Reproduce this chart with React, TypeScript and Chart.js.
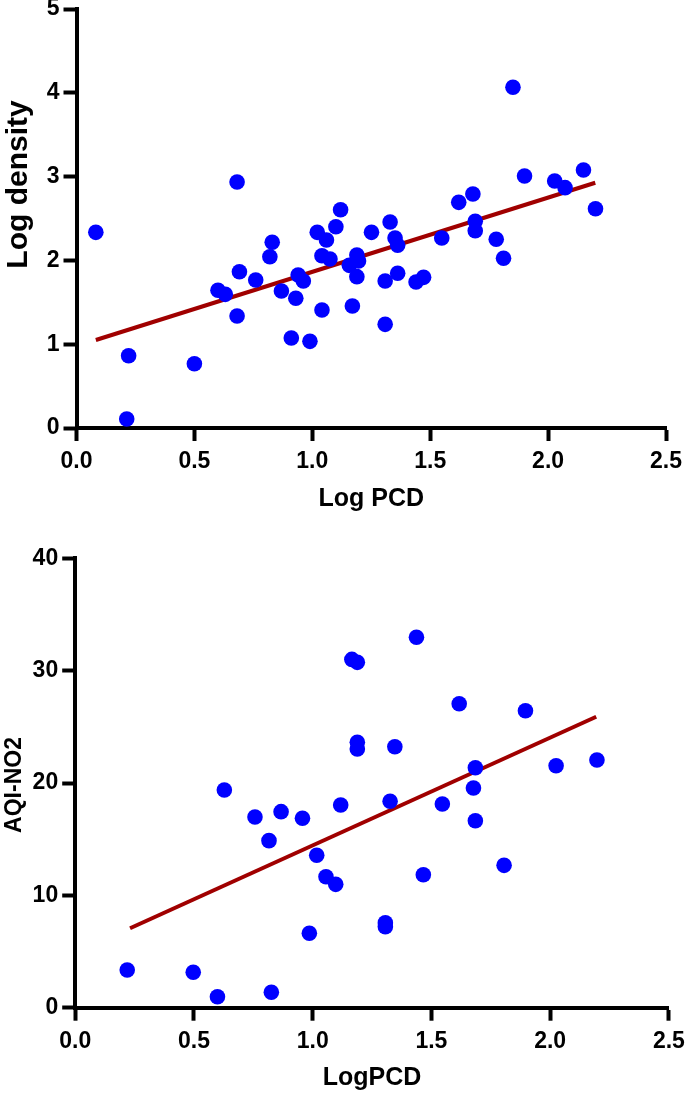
import React, { useEffect, useRef } from "react";
import { Chart, registerables } from "chart.js";
Chart.register(...registerables);

// ---- Data: top panel (Log density vs Log PCD) ----
const densityPCD = [
  0.082, 0.221, 0.213, 0.5, 0.681, 0.6, 0.631, 0.681, 0.691, 0.76, 0.83, 0.82, 0.869,
  0.93, 0.911, 0.94, 0.962, 0.99, 1.021, 1.06, 1.041, 1.075, 1.041, 1.1, 1.12, 1.157,
  1.189, 1.196, 1.189, 1.17, 1.251, 1.851, 1.309, 1.309, 1.33, 1.351, 1.362, 1.362,
  1.44, 1.472, 1.549, 1.621, 1.681, 1.691, 1.691, 1.78, 1.811, 1.9, 2.028, 2.072,
  2.15, 2.201,
];
const densityLog = [
  2.335, 0.863, 0.107, 0.767, 2.935, 1.643, 1.595, 1.337, 1.865, 1.766, 2.216, 2.044,
  1.635, 1.548, 1.074, 1.826, 1.754, 1.034, 2.335, 2.243, 2.056, 2.017, 1.408, 2.402,
  2.605, 1.941, 2.064, 1.993, 1.806, 1.456, 2.335, 4.066, 1.754, 1.237, 2.458, 2.267,
  2.18, 1.846, 1.742, 1.798, 2.267, 2.693, 2.792, 2.466, 2.354, 2.252, 2.025, 3.007,
  2.947, 2.868, 3.079, 2.617,
];
const densityFitX = [0.082, 2.2];
const densityFitY = [1.05, 2.927];

// ---- Data: bottom panel (AQI-NO2 vs LogPCD) ----
const no2PCD = [
  0.219, 0.497, 0.599, 0.826, 0.628, 0.757, 0.867, 0.957, 0.816, 1.017, 1.056, 1.097,
  0.986, 1.118, 1.165, 1.188, 1.188, 1.188, 1.306, 1.306, 1.437, 1.617, 1.896, 1.346,
  1.685, 2.025, 2.197, 1.677, 1.326, 1.546, 1.685, 1.466, 1.806,
];
const no2AQI = [
  3.36, 3.15, 0.98, 1.37, 19.38, 16.97, 17.45, 16.86, 14.87, 13.57, 11.66, 10.98, 6.62,
  18.04, 31.0, 30.74, 23.62, 23.03, 7.55, 7.2, 32.97, 27.06, 26.43, 23.23, 21.36, 21.54,
  22.05, 19.56, 18.37, 18.13, 16.64, 11.84, 12.67,
];
const no2FitX = [0.231, 2.194];
const no2FitY = [7.07, 25.9];

// ---- Tick labels ----
const pcdTicks = [0, 0.5, 1.0, 1.5, 2.0, 2.5];
const densityTicks = [0, 1, 2, 3, 4, 5];
const no2Ticks = [0, 10, 20, 30, 40];

const FONT = "'Liberation Sans', Arial, Helvetica, sans-serif";

type PanelCfg = {
  xs: number[];
  ys: number[];
  fitX: number[];
  fitY: number[];
  yTicks: number[];
  xTitle: string;
  yTitle: string;
  yTitleFont: number;
  yTitleX: number;
  yTitleY: number;
  width: number;
  height: number;
  area: { left: number; right: number; top: number; bottom: number };
  xTitlePadBottom: number;
  xDecimals: number;
};

const yTitlePlugin = {
  id: "yTitlePlugin",
  afterDraw(chart: any) {
    const o = chart.options.plugins.yTitlePlugin;
    if (!o) return;
    const ctx = chart.ctx;
    ctx.save();
    ctx.translate(o.x, o.y);
    ctx.rotate(-Math.PI / 2);
    ctx.font = `bold ${o.size}px ${FONT}`;
    ctx.fillStyle = "#000";
    ctx.textAlign = "center";
    ctx.textBaseline = "middle";
    ctx.fillText(o.text, 0, 0);
    ctx.restore();
  },
};

function Panel({ cfg }: { cfg: PanelCfg }) {
  const ref = useRef<HTMLCanvasElement | null>(null);
  useEffect(() => {
    if (!ref.current) return;
    const pts = cfg.xs.map((x, i) => ({ x, y: cfg.ys[i] }));
    const fit = cfg.fitX.map((x, i) => ({ x, y: cfg.fitY[i] }));
    const a = cfg.area;
    const chart = new Chart(ref.current, {
      type: "scatter",
      data: {
        datasets: [
          {
            data: pts,
            backgroundColor: "#0000ff",
            borderColor: "#0000ff",
            borderWidth: 0,
            pointRadius: 7.8,
            pointHoverRadius: 7.8,
          },
          {
            type: "line",
            data: fit,
            borderColor: "#a00000",
            borderWidth: 4,
            pointRadius: 0,
            showLine: true,
            fill: false,
          } as any,
        ],
      },
      options: {
        animation: false,
        responsive: false,
        events: [],
        layout: {
          autoPadding: false,
          padding: { left: 0, top: a.top, right: cfg.width - a.right, bottom: 0 },
        },
        plugins: {
          legend: { display: false },
          tooltip: { enabled: false },
          yTitlePlugin: {
            text: cfg.yTitle,
            size: cfg.yTitleFont,
            x: cfg.yTitleX,
            y: cfg.yTitleY,
          },
        } as any,
        scales: {
          x: {
            type: "linear",
            min: pcdTicks[0],
            max: pcdTicks[pcdTicks.length - 1],
            afterBuildTicks: (s: any) => {
              s.ticks = pcdTicks.map((v) => ({ value: v }));
            },
            afterFit: (s: any) => {
              s.height = cfg.height - a.bottom;
              s.paddingLeft = 0;
              s.paddingRight = 0;
              s.paddingTop = 0;
              s.paddingBottom = 0;
            },
            border: { display: true, width: 4, color: "#000" },
            grid: {
              drawOnChartArea: false,
              drawTicks: true,
              tickLength: 13,
              tickWidth: 4,
              tickColor: "#000",
            },
            ticks: {
              color: "#000",
              padding: 7,
              maxRotation: 0,
              autoSkip: false,
              font: { family: FONT, size: 23, weight: "bold" },
              callback: (v: any) => Number(v).toFixed(cfg.xDecimals),
            },
            title: {
              display: true,
              text: cfg.xTitle,
              color: "#000",
              font: { family: FONT, size: 25, weight: "bold" },
              padding: { top: 0, bottom: cfg.xTitlePadBottom },
            },
          },
          y: {
            type: "linear",
            min: cfg.yTicks[0],
            max: cfg.yTicks[cfg.yTicks.length - 1],
            afterBuildTicks: (s: any) => {
              s.ticks = cfg.yTicks.map((v) => ({ value: v }));
            },
            afterFit: (s: any) => {
              s.width = a.left;
              s.paddingLeft = 0;
              s.paddingRight = 0;
              s.paddingTop = 0;
              s.paddingBottom = 0;
            },
            border: { display: true, width: 4, color: "#000" },
            grid: {
              drawOnChartArea: false,
              drawTicks: true,
              tickLength: 13,
              tickWidth: 4,
              tickColor: "#000",
            },
            ticks: {
              color: "#000",
              padding: 4,
              autoSkip: false,
              font: { family: FONT, size: 23, weight: "bold" },
              callback: (v: any) => String(v),
            },
          },
        },
      } as any,
      plugins: [yTitlePlugin],
    });
    return () => chart.destroy();
  }, [cfg]);
  return (
    <canvas
      ref={ref}
      width={cfg.width}
      height={cfg.height}
      style={{ display: "block", width: cfg.width, height: cfg.height }}
    />
  );
}

const topCfg: PanelCfg = {
  xs: densityPCD,
  ys: densityLog,
  fitX: densityFitX,
  fitY: densityFitY,
  yTicks: densityTicks,
  xTitle: "Log PCD",
  yTitle: "Log density",
  yTitleFont: 30,
  yTitleX: 19,
  yTitleY: 184.5,
  width: 685,
  height: 530,
  area: { left: 76.5, right: 666, top: 9, bottom: 428 },
  xTitlePadBottom: 16,
  xDecimals: 1,
};

const bottomCfg: PanelCfg = {
  xs: no2PCD,
  ys: no2AQI,
  fitX: no2FitX,
  fitY: no2FitY,
  yTicks: no2Ticks,
  xTitle: "LogPCD",
  yTitle: "AQI-NO2",
  yTitleFont: 23,
  yTitleX: 15,
  yTitleY: 255,
  width: 685,
  height: 565,
  area: { left: 75.2, right: 668.9, top: 28.3, bottom: 477.7 },
  xTitlePadBottom: 2,
  xDecimals: 1,
};

export default function App() {
  return (
    <div
      style={{
        position: "fixed",
        left: 0,
        top: 0,
        width: 685,
        height: 1095,
        background: "#fff",
      }}
    >
      <Panel cfg={topCfg} />
      <Panel cfg={bottomCfg} />
    </div>
  );
}
